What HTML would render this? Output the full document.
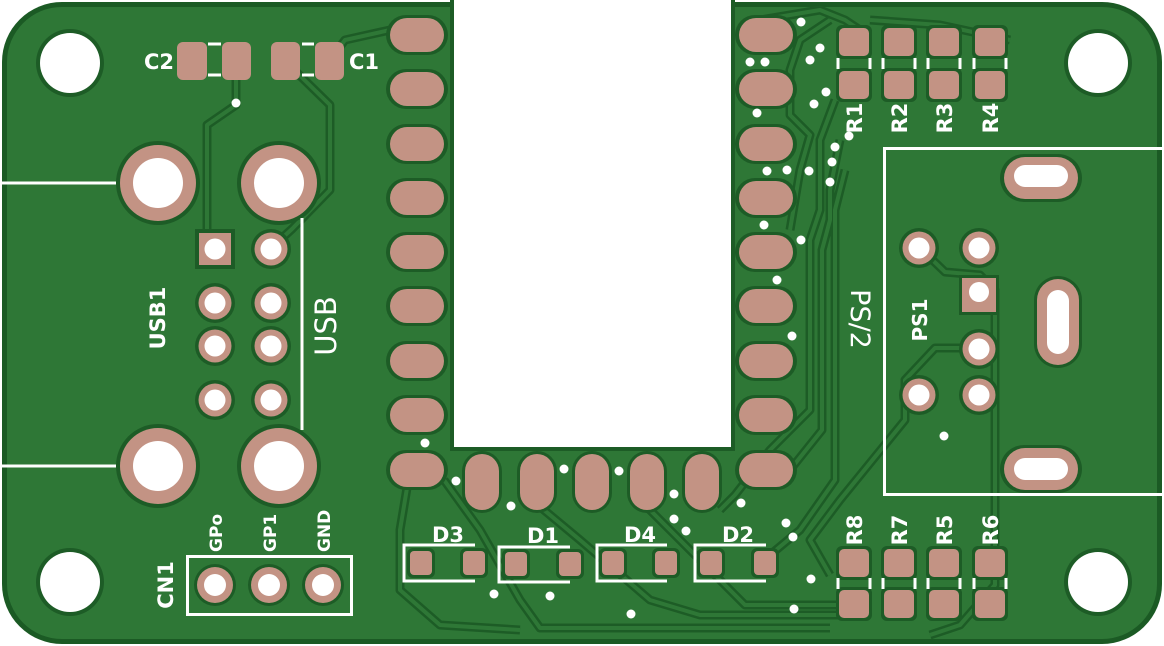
<!DOCTYPE html>
<html><head><meta charset="utf-8"><style>
html,body{margin:0;padding:0;background:#fff;}
svg{display:block}
text{font-family:"DejaVu Sans","Liberation Sans",sans-serif;font-weight:bold;fill:#fff}
</style></head><body>
<svg width="1164" height="646" viewBox="0 0 1164 646" xmlns="http://www.w3.org/2000/svg">
<defs>
<g id="mh"><circle r="34" fill="#1d5c26"/><circle r="30" fill="#fff"/></g>
<g id="big"><circle r="42" fill="#1d5c26"/><circle r="38" fill="#c39384"/><circle r="25" fill="#fff"/></g>
<g id="sm"><circle r="20" fill="#1d5c26"/><circle r="16.5" fill="#c39384"/><circle r="10.5" fill="#fff"/></g>
<g id="hp"><rect x="-31" y="-20" width="62" height="40" rx="20" fill="#1d5c26"/><rect x="-27" y="-17" width="54" height="34" rx="17" fill="#c39384"/></g>
<g id="vp"><rect x="-20" y="-31" width="40" height="62" rx="20" fill="#1d5c26"/><rect x="-17" y="-28" width="34" height="56" rx="17" fill="#c39384"/></g>
<g id="rp"><rect x="-18" y="-17" width="36" height="34" rx="6" fill="#1d5c26"/><rect x="-15" y="-14" width="30" height="28" rx="5" fill="#c39384"/></g>
<g id="dp"><rect x="-14" y="-15" width="28" height="30" rx="6" fill="#1d5c26"/><rect x="-11" y="-12" width="22" height="24" rx="4" fill="#c39384"/></g>
<g id="tr">
<polyline points="236,61 236,105 207,125 207,249"/>
<polyline points="285,61 330,105 330,190 292,229 270,249"/>
<polyline points="329,61 345,40 390,30"/>
<polyline points="760,20 820,10 845,20 860,30"/>
<polyline points="870,20 940,25 1010,40"/>
<polyline points="830,20 800,40 790,70 790,115 810,135 800,170 790,230"/>
<polyline points="835,100 820,140 820,210 810,240 810,410 770,450 735,495 720,510"/>
<polyline points="840,140 830,190 830,220 822,250 822,430 790,470"/>
<polyline points="845,170 835,210 835,480 800,530 770,555"/>
<polyline points="920,248 945,272 980,275 995,290 995,585 960,625 930,635"/>
<polyline points="980,348 935,348 905,380 905,420 840,500 810,540 830,575"/>
<polyline points="410,470 400,530 400,590 440,625 520,630"/>
<polyline points="444,480 480,530 520,600 540,628 830,628"/>
<polyline points="520,490 580,540 650,600 700,615 840,615"/>
<polyline points="640,500 700,560 745,605 840,605"/>
</g>
</defs>
<rect x="2" y="2" width="1160" height="642" rx="60" fill="#1b5a24"/>
<rect x="7" y="7" width="1150" height="632" rx="55" fill="#2e7736"/>
<use href="#tr" fill="none" stroke="#1d5c26" stroke-width="9" stroke-linejoin="round"/>
<use href="#tr" fill="none" stroke="#2e7736" stroke-width="4" stroke-linejoin="round"/>
<rect x="450" y="0" width="285" height="451" fill="#1d5c26"/>
<rect x="454" y="0" width="277" height="447" fill="#fff"/>
<use href="#mh" x="70" y="63"/><use href="#mh" x="1098" y="63"/>
<use href="#mh" x="70" y="582"/><use href="#mh" x="1098" y="582"/>
<g>
<use href="#hp" x="417" y="35"/><use href="#hp" x="417" y="89"/><use href="#hp" x="417" y="144"/><use href="#hp" x="417" y="198"/><use href="#hp" x="417" y="252"/><use href="#hp" x="417" y="306"/><use href="#hp" x="417" y="361"/><use href="#hp" x="417" y="415"/><use href="#hp" x="417" y="470"/>
<use href="#hp" x="766" y="35"/><use href="#hp" x="766" y="89"/><use href="#hp" x="766" y="144"/><use href="#hp" x="766" y="198"/><use href="#hp" x="766" y="252"/><use href="#hp" x="766" y="306"/><use href="#hp" x="766" y="361"/><use href="#hp" x="766" y="415"/><use href="#hp" x="766" y="470"/>
<use href="#vp" x="482" y="482"/><use href="#vp" x="537" y="482"/><use href="#vp" x="592" y="482"/><use href="#vp" x="647" y="482"/><use href="#vp" x="702" y="482"/>
</g>
<use href="#big" x="158" y="183"/><use href="#big" x="279" y="183"/>
<use href="#big" x="158" y="466"/><use href="#big" x="279" y="466"/>
<rect x="195" y="229" width="40" height="40" fill="#1d5c26"/><rect x="199" y="233" width="32" height="32" fill="#c39384"/><circle cx="215" cy="249" r="10.5" fill="#fff"/>
<use href="#sm" x="271" y="249"/>
<use href="#sm" x="215" y="303"/><use href="#sm" x="271" y="303"/>
<use href="#sm" x="215" y="346"/><use href="#sm" x="271" y="346"/>
<use href="#sm" x="215" y="400"/><use href="#sm" x="271" y="400"/>
<g stroke="#fff" stroke-width="3" fill="none">
<line x1="0" y1="183" x2="116" y2="183"/><line x1="0" y1="466" x2="116" y2="466"/>
<line x1="302" y1="218" x2="302" y2="430"/>
</g>
<text transform="translate(336,326) rotate(-90)" font-size="29" text-anchor="middle" style="font-weight:normal">USB</text>
<text transform="translate(165,318) rotate(-90)" font-size="21" text-anchor="middle">USB1</text>
<g><rect x="177" y="42" width="30" height="38" rx="6" fill="#c39384"/><rect x="222" y="42" width="29" height="38" rx="6" fill="#c39384"/>
<rect x="271" y="42" width="29" height="38" rx="6" fill="#c39384"/><rect x="315" y="42" width="29" height="38" rx="6" fill="#c39384"/></g>
<g stroke="#fff" stroke-width="3"><line x1="208" y1="44" x2="221" y2="44"/><line x1="208" y1="75" x2="221" y2="75"/><line x1="302" y1="44" x2="314" y2="44"/><line x1="302" y1="75" x2="314" y2="75"/></g>
<text x="159" y="69" font-size="21" text-anchor="middle">C2</text>
<text x="364" y="69" font-size="21" text-anchor="middle">C1</text>
<use href="#rp" x="854" y="42"/><use href="#rp" x="899" y="42"/><use href="#rp" x="944" y="42"/><use href="#rp" x="990" y="42"/>
<use href="#rp" x="854" y="85"/><use href="#rp" x="899" y="85"/><use href="#rp" x="944" y="85"/><use href="#rp" x="990" y="85"/>
<use href="#rp" x="854" y="563"/><use href="#rp" x="899" y="563"/><use href="#rp" x="944" y="563"/><use href="#rp" x="990" y="563"/>
<use href="#rp" x="854" y="604"/><use href="#rp" x="899" y="604"/><use href="#rp" x="944" y="604"/><use href="#rp" x="990" y="604"/>
<g stroke="#fff" stroke-width="3">
<line x1="838" y1="58" x2="838" y2="69"/><line x1="870" y1="58" x2="870" y2="69"/><line x1="883" y1="58" x2="883" y2="69"/><line x1="915" y1="58" x2="915" y2="69"/><line x1="928" y1="58" x2="928" y2="69"/><line x1="960" y1="58" x2="960" y2="69"/><line x1="974" y1="58" x2="974" y2="69"/><line x1="1006" y1="58" x2="1006" y2="69"/>
<line x1="838" y1="578" x2="838" y2="589"/><line x1="870" y1="578" x2="870" y2="589"/><line x1="883" y1="578" x2="883" y2="589"/><line x1="915" y1="578" x2="915" y2="589"/><line x1="928" y1="578" x2="928" y2="589"/><line x1="960" y1="578" x2="960" y2="589"/><line x1="974" y1="578" x2="974" y2="589"/><line x1="1006" y1="578" x2="1006" y2="589"/>
</g>
<g font-size="21">
<text transform="translate(862,118) rotate(-90)" text-anchor="middle">R1</text>
<text transform="translate(907,118) rotate(-90)" text-anchor="middle">R2</text>
<text transform="translate(952,118) rotate(-90)" text-anchor="middle">R3</text>
<text transform="translate(998,118) rotate(-90)" text-anchor="middle">R4</text>
<text transform="translate(862,530) rotate(-90)" text-anchor="middle">R8</text>
<text transform="translate(907,530) rotate(-90)" text-anchor="middle">R7</text>
<text transform="translate(952,530) rotate(-90)" text-anchor="middle">R5</text>
<text transform="translate(998,530) rotate(-90)" text-anchor="middle">R6</text>
</g>
<rect x="884.5" y="148.5" width="290" height="346" fill="none" stroke="#fff" stroke-width="3"/>
<g>
<rect x="1000" y="154" width="82" height="48" rx="24" fill="#1d5c26"/><rect x="1004" y="157" width="74" height="42" rx="21" fill="#c39384"/><rect x="1014" y="165" width="54" height="22" rx="11" fill="#fff"/>
<rect x="1000" y="445" width="82" height="48" rx="24" fill="#1d5c26"/><rect x="1004" y="448" width="74" height="42" rx="21" fill="#c39384"/><rect x="1014" y="458" width="54" height="22" rx="11" fill="#fff"/>
<rect x="1034" y="276" width="48" height="92" rx="24" fill="#1d5c26"/><rect x="1037" y="279" width="42" height="86" rx="21" fill="#c39384"/><rect x="1047" y="290" width="22" height="64" rx="11" fill="#fff"/>
</g>
<use href="#sm" x="919" y="248"/><use href="#sm" x="979" y="248"/>
<rect x="959" y="275" width="40" height="40" fill="#1d5c26"/><rect x="962" y="278" width="34" height="34" fill="#c39384"/><circle cx="979" cy="292" r="10" fill="#fff"/>
<use href="#sm" x="979" y="349"/><use href="#sm" x="919" y="395"/><use href="#sm" x="979" y="395"/>
<text transform="translate(927,320) rotate(-90)" font-size="20" text-anchor="middle">PS1</text>
<text transform="translate(851,319) rotate(90)" font-size="27" text-anchor="middle" style="font-weight:normal">PS/2</text>
<use href="#dp" x="421" y="563"/><use href="#dp" x="474" y="563"/>
<use href="#dp" x="516" y="564"/><use href="#dp" x="570" y="564"/>
<use href="#dp" x="613" y="563"/><use href="#dp" x="666" y="563"/>
<use href="#dp" x="711" y="563"/><use href="#dp" x="765" y="563"/>
<g stroke="#fff" stroke-width="3" fill="none">
<polyline points="475,545 404,545 404,581 475,581"/>
<polyline points="570,547 499,547 499,582 570,582"/>
<polyline points="667,545 597,545 597,581 667,581"/>
<polyline points="766,545 695,545 695,581 766,581"/>
</g>
<g font-size="21" text-anchor="middle">
<text x="448" y="542">D3</text><text x="543" y="543">D1</text><text x="640" y="542">D4</text><text x="738" y="542">D2</text>
</g>
<rect x="187.5" y="556.5" width="164" height="58" fill="none" stroke="#fff" stroke-width="3"/>
<g><circle cx="215" cy="585" r="21" fill="#1d5c26"/><circle cx="215" cy="585" r="18" fill="#c39384"/><circle cx="215" cy="585" r="11" fill="#fff"/>
<circle cx="269" cy="585" r="21" fill="#1d5c26"/><circle cx="269" cy="585" r="18" fill="#c39384"/><circle cx="269" cy="585" r="11" fill="#fff"/>
<circle cx="323" cy="585" r="21" fill="#1d5c26"/><circle cx="323" cy="585" r="18" fill="#c39384"/><circle cx="323" cy="585" r="11" fill="#fff"/></g>
<g font-size="17" style="font-weight:normal">
<text transform="translate(222,552) rotate(-90)">GPo</text>
<text transform="translate(276,552) rotate(-90)">GP1</text>
<text transform="translate(330,552) rotate(-90)">GND</text>
</g>
<text transform="translate(173,585) rotate(-90)" font-size="21" text-anchor="middle">CN1</text>
<g fill="#fff">
<circle cx="236" cy="103" r="4.5"/><circle cx="801" cy="22" r="4.5"/><circle cx="750" cy="62" r="4.5"/><circle cx="765" cy="62" r="4.5"/><circle cx="820" cy="48" r="4.5"/><circle cx="810" cy="60" r="4.5"/><circle cx="826" cy="92" r="4.5"/><circle cx="814" cy="104" r="4.5"/><circle cx="757" cy="113" r="4.5"/><circle cx="849" cy="136" r="4.5"/><circle cx="835" cy="147" r="4.5"/><circle cx="832" cy="162" r="4.5"/><circle cx="830" cy="182" r="4.5"/><circle cx="767" cy="171" r="4.5"/><circle cx="787" cy="170" r="4.5"/><circle cx="809" cy="171" r="4.5"/><circle cx="764" cy="225" r="4.5"/><circle cx="801" cy="240" r="4.5"/><circle cx="777" cy="280" r="4.5"/><circle cx="792" cy="336" r="4.5"/><circle cx="425" cy="443" r="4.5"/><circle cx="456" cy="481" r="4.5"/><circle cx="511" cy="506" r="4.5"/><circle cx="564" cy="469" r="4.5"/><circle cx="619" cy="471" r="4.5"/><circle cx="674" cy="494" r="4.5"/><circle cx="674" cy="519" r="4.5"/><circle cx="686" cy="531" r="4.5"/><circle cx="741" cy="503" r="4.5"/><circle cx="786" cy="523" r="4.5"/><circle cx="793" cy="537" r="4.5"/><circle cx="811" cy="579" r="4.5"/><circle cx="494" cy="594" r="4.5"/><circle cx="550" cy="596" r="4.5"/><circle cx="631" cy="614" r="4.5"/><circle cx="794" cy="609" r="4.5"/><circle cx="944" cy="436" r="4.5"/>
</g>
</svg>
</body></html>
